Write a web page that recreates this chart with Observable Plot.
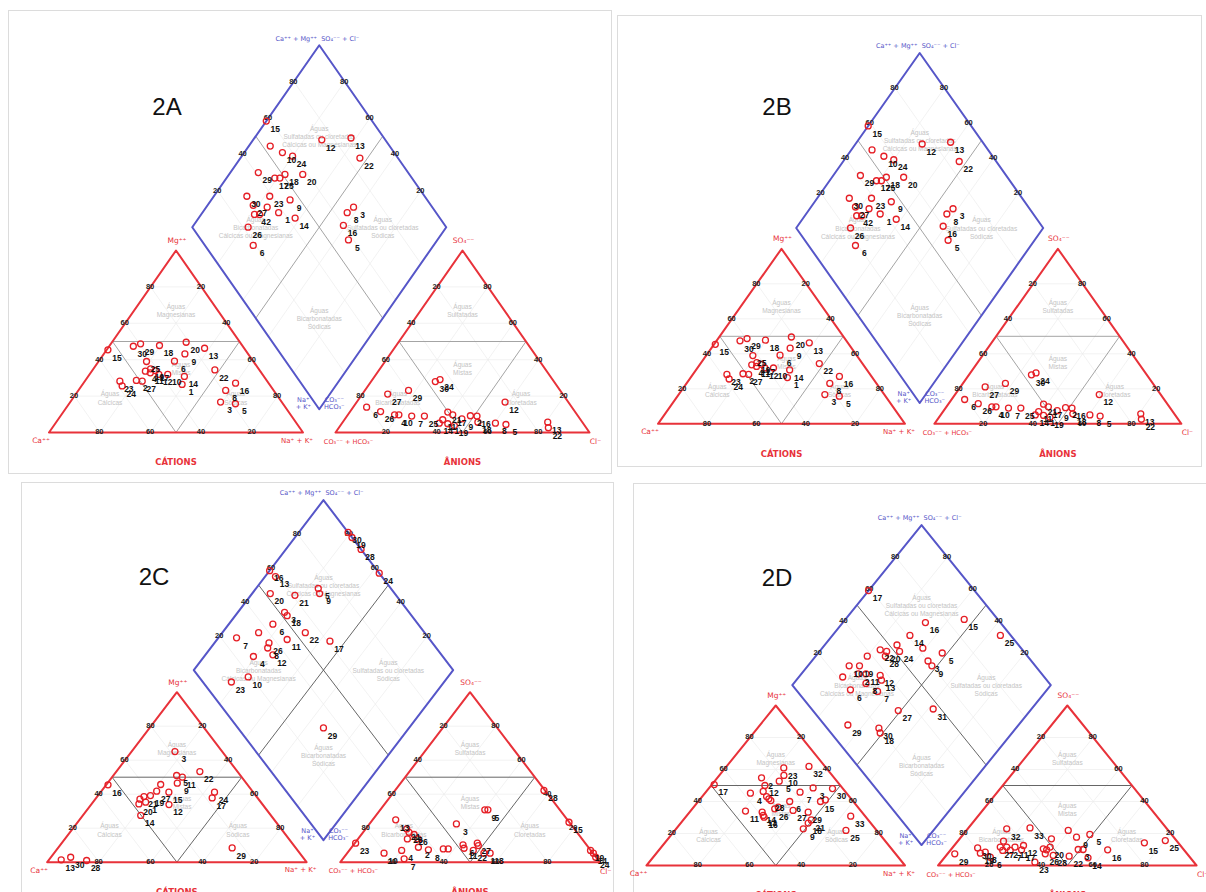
<!DOCTYPE html>
<html><head><meta charset="utf-8">
<script src="https://cdn.jsdelivr.net/npm/d3@7"></script>
<script src="https://cdn.jsdelivr.net/npm/@observablehq/plot@0.6"></script>
<style>
body{margin:0;background:#fff;width:1206px;height:892px;position:relative;overflow:hidden;font-family:"Liberation Sans",Arial,sans-serif}
.layer{position:absolute;left:0;top:0;width:1206px;height:892px}
.layer svg{background:transparent !important;overflow:visible;max-width:none}
.frame{position:absolute;border:1px solid #dcdcdc}
.title{position:absolute;font-family:"Liberation Sans",Arial,sans-serif;font-size:24px;color:#111;transform:translate(-50%,-50%);line-height:1}
</style></head><body>
<div class="frame" style="left:8px;top:10px;width:602px;height:462px"></div>
<div class="frame" style="left:617px;top:15px;width:583px;height:450px"></div>
<div class="frame" style="left:21px;top:482px;width:591px;height:420px"></div>
<div class="frame" style="left:633px;top:483px;width:580px;height:420px"></div>
<script>
// ---------- data (percentages) ----------
const tickValues = [20, 40, 60, 80];
const panelNames = ["2A", "2B", "2C", "2D"];

// cation triangle: [label, Mg %, Na+K %]
const catA = [
 ["15",45.4,0.5],["30",47.4,9.5],["29",48.7,11.7],["18",47.8,19.6],["20",49.6,29.2],["13",46.3,38.1],
 ["9",43.2,31.9],["6",39.2,29.8],["25",39,18.9],["4",33.7,21.1],["19",35,22.5],["17",34,24.9],
 ["11",32.8,23.5],["12",31.9,27.3],["10",31.9,30.8],["14",30.8,37.9],["1",26.4,39.2],["23",28.2,13.8],
 ["24",25.6,16],["2",28.6,20.1],["27",28.2,22.6],["22",34.4,48.1],["16",27.1,59.9],["8",23.1,58],
 ["3",16.7,59.2],["5",15.8,65.5]
];
// anion triangle: [label, SO4 %, Cl %]
const anA = [
 ["30",28,25.3],["24",29.1,26.6],["27",21.1,10],["29",23.1,17.2],["6",13.9,5.3],["26",11.5,12],
 ["4",9.7,18.4],["10",9.7,20.1],["7",9,25.5],["25",9,30.5],["21",11.2,38.6],["17",9.7,41.3],
 ["11",7,38.7],["14",5.1,38.3],["1",4.8,41.8],["19",3.8,44.9],["2",9.2,48.5],["16",9,51.2],
 ["18",5.7,53.2],["9",7.5,46],["8",5.1,60.4],["5",4.4,64.9],["12",16.7,58.4],["13",5.7,80.7],["22",2.6,82.5]
];
// diamond: [label, Ca+Mg %, SO4+Cl %]
const diaA = [
 ["15",100,58.3],["",91.6,53],["10",85,56],["12",73,75],["13",62,87],["22",53,85],["24",80,59],
 ["20",71,58],["29",89,41],["17",81,46],["25",79,48],["18",78,51],["30",87,30],["23",78,39],
 ["9",69,46],["27",82,30],["",76,35],["4",79,28],["2",77,30],["1",70,38],["14",62,43],["26",78,22],
 ["6",71,19],["3",42,69],["8",43,65],["16",41,60],["5",35,58]
];

const catC = [
 ["3",65.1,16.7],["16",45.5,0.7],["5",51,24.4],["11",50,27.1],["22",53.3,32.2],["9",46.5,26.9],
 ["",45.7,20.9],["27",41.8,21.3],["19",39.2,20.2],["21",38.6,18],["",37.1,17.2],["20",34.3,18.2],
 ["1",35.3,20.3],["15",41.2,26.3],["12",33.9,30],["14",27.5,22.3],["24",41.2,43.9],["17",37.8,44.7],
 ["29",8.4,67.1],["13",1.4,4.7],["30",2.9,7.6],["28",1,14.7]
];
const anC = [
 ["23",11.2,0.3],["13",24.9,8.9],["21",19.6,15.8],["28",17.6,17.7],["26",16.3,20.3],["",13.7,23.1],
 ["",13.7,19],["10",5.3,14.2],["4",6.9,20.2],["7",2,23.6],["2",8.8,25.7],["8",7.3,30.3],["",7.8,35.8],
 ["",7.8,37.7],["3",22.5,33.5],["6",10.2,42.2],["11",8.2,43.6],["27",11.2,47.2],["",9.8,48.3],
 ["22",6.9,47.8],["1",5.3,52.7],["18",5.3,55.1],["9",30.8,40.3],["5",30.8,41.5],["28",42.2,57.4],
 ["15",23.5,76.4],["19",6.9,93],["14",5.3,94.9],["24",2.9,97]
];
const diaC = [
 ["30",81,100],["19",78,100],["28",71,100],["24",57,100],["16",100,58.5],["13",96,59],["20",93,52],
 ["21",83,61],["5",76,72],["9",74,71],["3",82,52],["18",80,52],["6",83,44],["",86,36],["7",93,26],
 ["11",73,45],["22",68,54],["17",56,61],["26",79,37],["8",78,35],["4",81,27],["12",74,35],
 ["10",77,19],["23",82,11],["29",33,33]
];

const catD = [
 ["17",50.6,0.9],["23",61,22.6],["32",61.9,31.9],["10",56.3,25],["5",52.7,25],["2",54.8,17.1],
 ["12",50,20.8],["4",45.2,17.6],["",46.3,22],["",43.1,24.9],["",41.7,26.5],["28",40.6,27.8],
 ["6",40,35.4],["7",45.8,36.5],["3",48.5,40.2],["30",48.1,47.9],["15",40,47.3],["",41,48.7],
 ["11",34,21.3],["14",33.3,28.1],["13",31.3,29.5],["16",30.2,30.4],["26",35.4,31.9],["",36.5,32.7],
 ["29",33.3,45.9],["21",28.5,49.5],["18",26.5,49.3],["9",22.9,49.2],["33",30.8,63.6],["25",21.9,66.2],
 ["27",34.4,39.5]
];
const anD = [
 ["29",7.3,2.8],["30",11,9.8],["19",7.7,12.5],["8",8.3,14.1],["6",5.2,17.6],["",15.2,17.7],
 ["32",22.9,15.1],["33",23.5,23.8],["27",11.5,18.3],["",9.4,20.3],["2",11.5,20.8],["7",9.4,23.2],
 ["11",11.5,24],["17",9.8,27.4],["12",12.5,26.8],["23",2.1,36.4],["",16.7,35.5],["",10.4,35.5],
 ["",9.8,37.1],["20",11.5,37.6],["26",7.3,37.8],["28",6.3,41.4],["",21.9,39.4],["9",17.7,44.7],
 ["5",19.4,49],["3",10,49.2],["",10,51.1],["22",5.8,47.8],["14",4.8,55.6],["16",9.8,60.7],
 ["15",14.2,72.7],["25",15.6,80.1]
];
const diaD = [
 ["17",100,59],["16",68,71],["15",54,87],["25",35,96],["14",70,61],["",61,62],["5",52,68],
 ["3",55,60],["9",52,60],["22",77,45],["20",74,47],["",72,53],["24",69,52],["28",73,45],["",80,38],
 ["19",80,32],["10",84,28],["",83,22],["2",78,29],["11",75,32],["12",69,37],["13",67,36],["6",76,21],
 ["8",72,29],["7",65,31],["27",51,33],["31",38,47],["29",66,9],["30",53,20],["18",51,19]
];

// region names
const catRegions = [["Águas\nMagnesianas",67,16.5],["Águas\nMistas",35,34.5],["Águas\nCálcicas",19,14.5],["Águas\nSódicas",19,64]];
const anRegions = [["Águas\nSulfatadas",67,16.5],["Águas\nMistas",35,32.5],["Águas\nBicarbonatadas",19,15],["Águas\nCloretadas",19,63.5]];
const diaRegions = [
 ["Águas\nSulfatadas ou cloretadas\nCálcicas ou Magnesianas",75,75],
 ["Águas\nBicarbonatadas\nCálcicas ou Magnesianas",75,25],
 ["Águas\nSulfatadas ou cloretadas\nSódicas",25,75],
 ["Águas\nBicarbonatadas\nSódicas",25,25]
];

// ---------- layout of each panel (pixel anchors) ----------
const panels = [
 {name:"2A", Lx:48.5, Ly:432, s:254, h:182, g:12.8, cat:catA, an:anA, dia:diaA, inner:"#9a9a9a", tx:167, ty:107},
 {name:"2B", Lx:657.5, Ly:423.3, s:247, h:175, g:11.9, cat:catA, an:anA, dia:diaA, inner:"#9a9a9a", tx:777, ty:107},
 {name:"2C", Lx:46.7, Ly:861.7, s:259.4, h:170, g:13, cat:catC, an:anC, dia:diaC, inner:"#555", tx:154, ty:577},
 {name:"2D", Lx:646, Ly:865, s:258.5, h:160, g:12.8, cat:catD, an:anD, dia:diaD, inner:"#555", tx:777, ty:578}
];

const RED = "#e8323a", BLUE = "#5656c8", DOT = "#e51e25";

function draw(p) {
  const g = p.g;
  const C = (mg, na) => [na + mg / 2, mg];
  const A = (so4, cl) => [100 + g + cl + so4 / 2, so4];
  const D = (camg, so4cl) => [100 + g / 2 + (so4cl - camg) / 2, g + camg + so4cl];

  // faint lattice
  const grid = [];
  for (const v of tickValues) {
    grid.push([C(v, 0), C(v, 100 - v)]);
    grid.push([C(0, v), C(100 - v, v)]);
    grid.push([C(0, 100 - v), C(100 - v, 0)]);
    grid.push([A(v, 0), A(v, 100 - v)]);
    grid.push([A(0, v), A(100 - v, v)]);
    grid.push([A(0, 100 - v), A(100 - v, 0)]);
    grid.push([D(v, 0), D(v, 100)]);
    grid.push([D(0, v), D(100, v)]);
  }
  // classification lines
  const inner = [
    [C(50, 0), C(50, 50)], [C(0, 50), C(50, 0)], [C(0, 50), C(50, 50)],
    [A(50, 0), A(50, 50)], [A(0, 50), A(50, 0)], [A(0, 50), A(50, 50)],
    [D(50, 0), D(50, 100)], [D(0, 50), D(100, 50)]
  ];
  const triC = [C(0, 0), C(0, 100), C(100, 0), C(0, 0)];
  const triA = [A(0, 0), A(0, 100), A(100, 0), A(0, 0)];
  const dia = [D(0, 0), D(100, 0), D(100, 100), D(0, 100), D(0, 0)];

  const catPts = p.cat.map(d => ({label: d[0], xy: C(d[1], d[2])}));
  const anPts = p.an.map(d => ({label: d[0], xy: A(d[1], d[2])}));
  const diaPts = p.dia.map(d => ({label: d[0], xy: D(d[1], d[2])}));
  const pts = [...catPts, ...anPts, ...diaPts];

  const ticks = [];
  for (const v of tickValues) {
    ticks.push({t: v, xy: C(v, 0), dx: -9, dy: -4});
    ticks.push({t: v, xy: C(100 - v, v), dx: 11, dy: -4});
    ticks.push({t: v, xy: C(0, 100 - v), dx: 0, dy: 9});
    ticks.push({t: v, xy: A(100 - v, 0), dx: -10, dy: -4});
    ticks.push({t: v, xy: A(v, 100 - v), dx: 10, dy: -4});
    ticks.push({t: v, xy: A(0, v), dx: 0, dy: 9});
    ticks.push({t: v, xy: D(100, v), dx: -10, dy: -4});
    ticks.push({t: v, xy: D(v, 100), dx: 10, dy: -4});
  }
  const regions = [
    ...catRegions.map(r => ({t: r[0], xy: C(r[1], r[2])})),
    ...anRegions.map(r => ({t: r[0], xy: A(r[1], r[2])})),
    ...diaRegions.map(r => ({t: r[0], xy: D(r[1], r[2])}))
  ];
  const redLabels = [
    {t: "Ca⁺⁺", xy: C(0, 0), dx: -8, dy: 8, fs: 7.5},
    {t: "Mg⁺⁺", xy: C(100, 0), dx: 1, dy: -10, fs: 7.5},
    {t: "Na⁺ + K⁺", xy: C(0, 100), dx: -6, dy: 8, fs: 7},
    {t: "CO₃⁻⁻ + HCO₃⁻", xy: A(0, 0), dx: 13, dy: 9, fs: 6.5},
    {t: "SO₄⁻⁻", xy: A(100, 0), dx: 1, dy: -10, fs: 7.5},
    {t: "Cl⁻", xy: A(0, 100), dx: 6, dy: 9, fs: 7.5}
  ];
  const blueLabels = [
    {t: "Ca⁺⁺ + Mg⁺⁺", xy: D(100, 100), dx: -23, dy: -7},
    {t: "SO₄⁻⁻ + Cl⁻", xy: D(100, 100), dx: 21, dy: -7},
    {t: "Na⁺\n+ K⁺", xy: D(0, 0), dx: -16, dy: -6},
    {t: "CO₃⁻⁻\nHCO₃⁻", xy: D(0, 0), dx: 15, dy: -6}
  ];
  const bigLabels = [
    {t: "CÁTIONS", xy: C(0, 50)},
    {t: "ÂNIONS", xy: A(0, 50)}
  ];

  const xDomain = [(0 - p.Lx) / p.s * 100, (1206 - p.Lx) / p.s * 100];
  const yDomain = [(p.Ly - 892) / p.h * 100, p.Ly / p.h * 100];

  const seg = (arr, opts) => Plot.link(arr, {x1: d => d[0][0], y1: d => d[0][1], x2: d => d[1][0], y2: d => d[1][1], ...opts});
  const poly = (arr, opts) => Plot.line(arr, {x: d => d[0], y: d => d[1], ...opts});
  const txt = (arr, opts) => Plot.text(arr, {x: d => d.xy[0], y: d => d.xy[1], text: d => String(d.t), ...opts});

  const chart = Plot.plot({
    width: 1206, height: 892, margin: 0,
    x: {domain: xDomain, axis: null},
    y: {domain: yDomain, axis: null},
    style: {background: "transparent", fontFamily: "Liberation Sans, Arial, sans-serif", overflow: "visible"},
    marks: [
      seg(grid, {stroke: "#ececec", strokeWidth: 0.7}),
      seg(inner, {stroke: p.inner, strokeWidth: 0.9}),
      poly(triC, {stroke: RED, strokeWidth: 2}),
      poly(triA, {stroke: RED, strokeWidth: 2}),
      poly(dia, {stroke: BLUE, strokeWidth: 2}),
      txt(regions, {fill: "#c4c4c4", fontSize: 6.5, lineHeight: 1.25}),
      txt(ticks, {dx: d => d.dx, dy: d => d.dy, fill: "#222", fontSize: 7.5, fontWeight: "bold"}),
      Plot.dot(pts, {x: d => d.xy[0], y: d => d.xy[1], r: 3, stroke: DOT, strokeWidth: 1.3, fill: "none"}),
      Plot.text(pts.filter(d => d.label !== ""), {x: d => d.xy[0], y: d => d.xy[1], text: "label", dx: 9, dy: 8, fill: "#111", fontSize: 8.5, fontWeight: "bold"}),
      ...redLabels.map(l => txt([l], {dx: l.dx, dy: l.dy, fill: RED, fontSize: l.fs, fontFamily: "DejaVu Sans, sans-serif"})),
      ...blueLabels.map(l => txt([l], {dx: l.dx, dy: l.dy, fill: BLUE, fontSize: 6.5, lineHeight: 1.1, fontFamily: "DejaVu Sans, sans-serif"})),
      txt(bigLabels, {dy: 30, fill: RED, fontSize: 8.5, fontWeight: "bold", fontFamily: "DejaVu Sans, sans-serif"})
    ]
  });
  const wrap = document.createElement("div");
  wrap.className = "layer";
  wrap.appendChild(chart);
  document.body.appendChild(wrap);

  const t = document.createElement("div");
  t.className = "title";
  t.style.left = p.tx + "px";
  t.style.top = p.ty + "px";
  t.textContent = p.name;
  document.body.appendChild(t);
}
panels.forEach(draw);
</script>
</body></html>
